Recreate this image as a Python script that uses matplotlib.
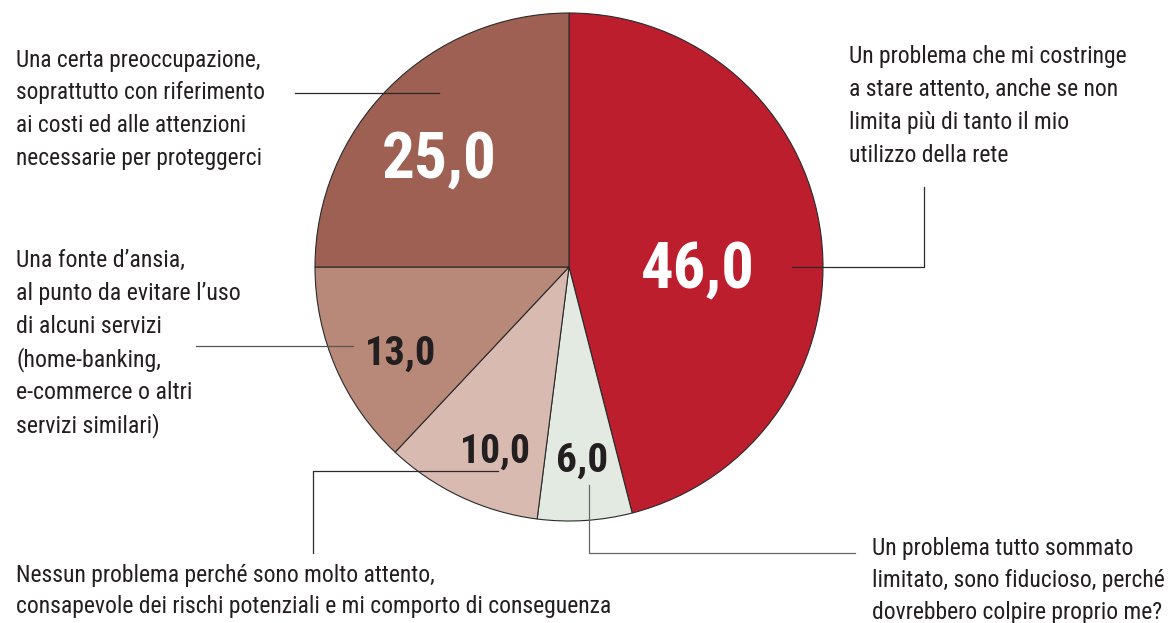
import matplotlib
matplotlib.use("Agg")
from matplotlib import pyplot as plt
from matplotlib import font_manager

# data, clockwise from 12 o'clock
categories = [
    "Un problema che mi costringe\na stare attento, anche se non\nlimita più di tanto il mio\nutilizzo della rete",
    "Un problema tutto sommato\nlimitato, sono fiducioso, perché\ndovrebbero colpire proprio me?",
    "Nessun problema perché sono molto attento,\nconsapevole dei rischi potenziali e mi comporto di conseguenza",
    "Una fonte d’ansia,\nal punto da evitare l’uso\ndi alcuni servizi\n(home-banking,\ne-commerce o altri\nservizi similari)",
    "Una certa preoccupazione,\nsoprattutto con riferimento\nai costi ed alle attenzioni\nnecessarie per proteggerci",
]
values = [46.0, 6.0, 10.0, 13.0, 25.0]
value_labels = ["46,0", "6,0", "10,0", "13,0", "25,0"]
colors = ["#BC1E2E", "#E2EAE2", "#D8BAB0", "#B88979", "#9D6052"]

names = {f.name for f in font_manager.fontManager.ttflist}
fam, stretch = ["DejaVu Sans"], "condensed"
for cand in ["Roboto Condensed", "Liberation Sans Narrow", "Open Sans Condensed"]:
    if cand in names:
        fam, stretch = [cand, "DejaVu Sans"], "normal"
        break

ink = "#231f20"

fig = plt.figure(figsize=(11.69, 6.23), dpi=100)
ax = fig.add_axes([0, 0, 1, 1])

# axes in pixel units, y pointing down
cx, cy, r = 569, 267, 254
ax.pie(values, colors=colors, startangle=-90, counterclock=True,
       center=(cx, cy), radius=r,
       wedgeprops=dict(edgecolor="#2a2a2a", linewidth=0.8))
ax.set_xlim(0, 1169)
ax.set_ylim(623, 0)
ax.set_aspect("auto")
ax.axis("off")

renderer = fig.canvas.get_renderer()


def fit(texts, target, size):
    # scale font so the widest line spans `target` pixels
    w = max(t.get_window_extent(renderer).width for t in texts)
    for t in texts:
        t.set_fontsize(size * target / w)


# value labels: (x_left, baseline, width, color)
num_style = [
    (641, 288, 114, "white"),
    (556, 472, 52, ink),
    (460, 463, 70, ink),
    (365, 365, 71, ink),
    (382, 178, 115, "white"),
]
for lab, (x, y, w, c) in zip(value_labels, num_style):
    t = ax.text(x, y, lab, ha="left", va="baseline", fontsize=40, color=c,
                fontweight="heavy", family=fam, fontstretch=stretch)
    fit([t], w, 40)

# category labels: (x, first baseline, line pitch, widest line width)
cat_pos = [
    (849, 63, 33, 279),
    (872, 555, 32, 293),
    (16, 582, 31, 598),
    (16, 267, 33, 225),
    (16, 67, 32.5, 249),
]
for lab, (x, y0, pitch, w) in zip(categories, cat_pos):
    lines = [ax.text(x, y0 + i * pitch, line, ha="left", va="baseline",
                     fontsize=18, color=ink, family=fam, fontstretch=stretch)
             for i, line in enumerate(lab.split("\n"))]
    fit(lines, w, 18)

# leader lines
leaders = [
    ([792, 924, 924], [267, 267, 187], "#2a2a2a"),
    ([589, 589, 855], [485, 553, 553], "#666666"),
    ([498, 313, 313], [471, 471, 553], "#2a2a2a"),
    ([196, 353], [346, 346], "#555555"),
    ([295, 439], [93, 93], "#2a2a2a"),
]
for xs, ys, c in leaders:
    ax.plot(xs, ys, color=c, linewidth=0.9)

fig.savefig("out.png", dpi=100)
